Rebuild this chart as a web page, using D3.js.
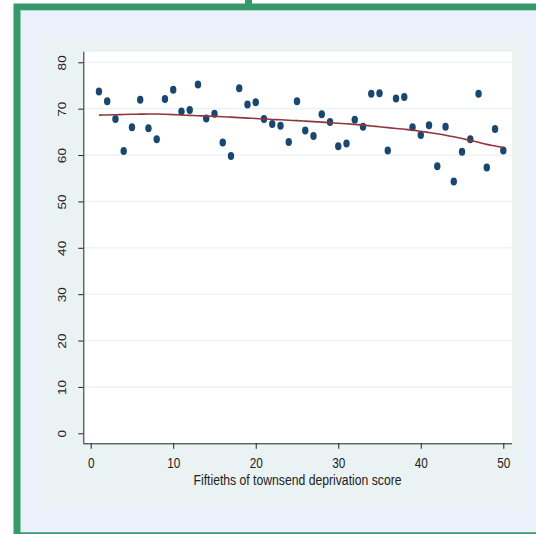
<!DOCTYPE html>
<html>
<head>
<meta charset="utf-8">
<script src="https://cdn.jsdelivr.net/npm/d3@7"></script>
<style>
  body { margin: 0; background: #fff; }
  text { font-family: "Liberation Sans", Arial, sans-serif; fill: #222; }
</style>
</head>
<body>
<div id="chart"></div>
<script>
// fiftieths of townsend score, mean value per group, lowess fit
var groups = d3.range(1, 51);
var values = [73.7, 71.6, 67.8, 60.9, 66.0, 71.9, 65.8, 63.4, 72.1, 74.1,
              69.4, 69.7, 75.2, 67.9, 68.9, 62.7, 59.8, 74.4, 70.9, 71.4,
              67.8, 66.7, 66.3, 62.8, 71.6, 65.3, 64.1, 68.8, 67.1, 61.9,
              62.5, 67.6, 66.1, 73.2, 73.3, 61.0, 72.2, 72.5, 66.0, 64.3,
              66.4, 57.6, 66.1, 54.3, 60.7, 63.4, 73.2, 57.3, 65.6, 61.0];
var smooth = [68.6, 68.65, 68.7, 68.75, 68.8, 68.82, 68.85, 68.85, 68.8, 68.72,
              68.62, 68.55, 68.48, 68.4, 68.33, 68.27, 68.17, 68.07, 67.97, 67.87,
              67.77, 67.68, 67.6, 67.5, 67.42, 67.31, 67.2, 67.09, 66.98, 66.86,
              66.74, 66.6, 66.46, 66.28, 66.1, 65.92, 65.74, 65.57, 65.38, 65.12,
              64.85, 64.58, 64.28, 63.93, 63.55, 63.15, 62.75, 62.3, 61.95, 61.6];
var xTicks = [0, 10, 20, 30, 40, 50];
var yTicks = [0, 10, 20, 30, 40, 50, 60, 70, 80];
var xTitle = "Fiftieths of townsend deprivation score";

var W = 536, H = 534;
var stretch = 1.3; // text in the original is drawn taller than wide

var svg = d3.select("#chart").append("svg")
    .attr("width", W)
    .attr("height", H);

// frame
svg.append("rect").attr("x", 0).attr("y", 0).attr("width", W).attr("height", H).attr("fill", "#fff");
svg.append("rect").attr("x", 13.5).attr("y", 3.5).attr("width", W).attr("height", 531).attr("fill", "#36996a");
svg.append("rect").attr("x", 245).attr("y", 0).attr("width", 7).attr("height", 4).attr("fill", "#36996a");
svg.append("rect").attr("x", 20.5).attr("y", 10.3).attr("width", W).attr("height", 522).attr("fill", "#eaf1fb");

// graph region and plot region
svg.append("rect").attr("x", 41).attr("y", 35).attr("width", 483.5).attr("height", 474).attr("fill", "#eaf2f3");
svg.append("rect").attr("x", 83.3).attr("y", 51.7).attr("width", 428.7).attr("height", 391.6).attr("fill", "#fff");

var x = d3.scaleLinear().domain([0, 50]).range([90.7, 503.3]);
var y = d3.scaleLinear().domain([0, 80]).range([433.3, 62.3]);

// grid
svg.append("g")
    .selectAll("line")
    .data(yTicks.filter(function(d) { return d > 0; }))
    .enter().append("line")
    .attr("x1", 83.3).attr("x2", 512)
    .attr("y1", function(d) { return y(d); })
    .attr("y2", function(d) { return y(d); })
    .attr("stroke", "#eaf2f3")
    .attr("stroke-width", 1.3);

// axes
var yAxis = svg.append("g")
    .attr("transform", "translate(83.3,0)")
    .call(d3.axisLeft(y).tickValues(yTicks).tickSize(5).tickFormat(""));
yAxis.select(".domain").attr("d", "M0.5,51.7V443.3").attr("stroke", "#222");
yAxis.selectAll(".tick line").attr("stroke", "#222");

yAxis.selectAll(".tick")
    .append("text")
    .attr("transform", "translate(-17,0) scale(1," + stretch + ") rotate(-90)")
    .attr("text-anchor", "middle")
    .attr("font-size", 10.5)
    .text(function(d) { return d; });

var xAxis = svg.append("g")
    .attr("transform", "translate(0,443.3)")
    .call(d3.axisBottom(x).tickValues(xTicks).tickSize(5.5).tickFormat(""));
xAxis.select(".domain").attr("d", "M83.3,0.5H512").attr("stroke", "#222");
xAxis.selectAll(".tick line").attr("stroke", "#222");

xAxis.selectAll(".tick")
    .append("text")
    .attr("transform", "translate(0,24.5) scale(1," + stretch + ")")
    .attr("text-anchor", "middle")
    .attr("font-size", 11.8)
    .text(function(d) { return d; });

svg.append("text")
    .attr("transform", "translate(297.5,485) scale(1,1.25)")
    .attr("text-anchor", "middle")
    .attr("font-size", 12.2)
    .text(xTitle);

// points
svg.append("g")
    .selectAll("ellipse")
    .data(groups)
    .enter().append("ellipse")
    .attr("cx", function(d) { return x(d); })
    .attr("cy", function(d, i) { return y(values[i]); })
    .attr("rx", 3.2)
    .attr("ry", 4)
    .attr("fill", "#1a476f");

// lowess line
var line = d3.line()
    .x(function(d) { return x(d); })
    .y(function(d, i) { return y(smooth[i]); })
    .curve(d3.curveMonotoneX);

svg.append("path")
    .datum(groups)
    .attr("d", line)
    .attr("fill", "none")
    .attr("stroke", "#90353b")
    .attr("stroke-width", 1.6);
</script>
</body>
</html>
